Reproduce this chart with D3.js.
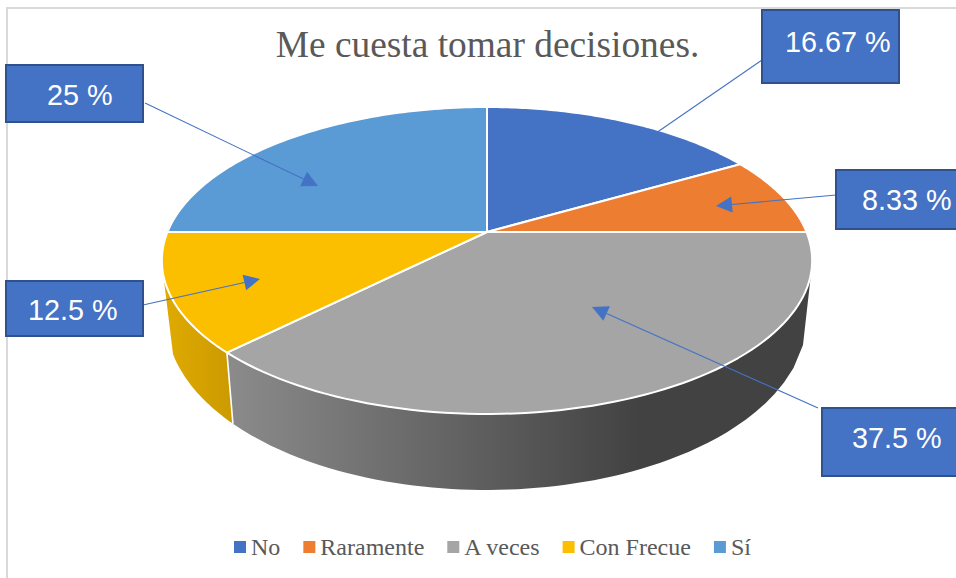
<!DOCTYPE html>
<html>
<head>
<meta charset="utf-8">
<script src="https://cdn.jsdelivr.net/npm/d3@7"></script>
<style>html,body{margin:0;padding:0;background:#fff;overflow:hidden}svg{display:block}</style>
</head>
<body>
<svg id="chart" width="956" height="578"></svg>
<script>
const title = "Me cuesta tomar decisiones.";
const categories = ["No", "Raramente", "A veces", "Con Frecue", "Sí"];
const values = [16.67, 8.33, 37.5, 12.5, 25];
const labels = ["16.67 %", "8.33 %", "37.5 %", "12.5 %", "25 %"];
const colors = ["#4472c4", "#ed7d31", "#a5a5a5", "#fcbf00", "#5b9bd5"];

// Annotation layout: box [x, y, w, h], text [x, baseline], leader [x1, y1, x2, y2]
const boxes = [[762, 10, 137, 73], [836, 170, 130, 59], [822, 408, 144, 68], [6, 281, 137, 55], [6, 65, 137, 57]];
const textAt = [[785, 52], [862, 210], [852, 448], [28, 320], [47, 105]];
const leaders = [[762, 60, 640, 144], [836, 195, 716, 206], [818, 408, 592, 307], [143, 305, 260, 279], [145, 103, 318, 186]];

const svg = d3.select("#chart");
const defs = svg.append("defs");

// Perspective projection of the pie's unit circle onto the page
const cx = 487, cy = 232, bx = 319.5, ay = 148.2, k = -0.1857;
const project = t => {
  const u = Math.sin(t), v = -Math.cos(t), w = 1 + k * v;
  return [cx + bx * u / w, cy + ay * v / w];
};
// Lower rim of the cylinder
const low = { cx: 486.5, cy: 320, rx: 320, ry: 170 };
const lowAt = x => [x, low.cy + low.ry * Math.sqrt(Math.max(0, 1 - ((x - low.cx) / low.rx) ** 2))];
const samples = (a, b, f, n = 60) => d3.range(n + 1).map(i => f(a + (b - a) * i / n));
const line = d3.line();

const arcs = d3.pie().sort(null).value(d => d).startAngle(0).endAngle(2 * Math.PI)(values);

// Frame
svg.append("path").attr("d", "M7,578V8H956").attr("fill", "none").attr("stroke", "#d9d9d9").attr("stroke-width", 2);

// Side walls
const rad = d => d * Math.PI / 180;
const grayGrad = defs.append("linearGradient").attr("id", "wallGray").attr("gradientUnits", "userSpaceOnUse")
  .attr("x1", 233).attr("x2", 640).attr("y1", 0).attr("y2", 0);
grayGrad.append("stop").attr("offset", 0).attr("stop-color", "#8a8a8a");
grayGrad.append("stop").attr("offset", 1).attr("stop-color", "#424242");
const yelGrad = defs.append("linearGradient").attr("id", "wallYellow").attr("gradientUnits", "userSpaceOnUse")
  .attr("x1", 163).attr("x2", 233).attr("y1", 0).attr("y2", 0);
yelGrad.append("stop").attr("offset", 0).attr("stop-color", "#e0aa00");
yelGrad.append("stop").attr("offset", 1).attr("stop-color", "#cb9a00");

const div = arcs[2].endAngle;
const divTop = project(div);
const divBottom = lowAt(divTop[0] + 6);
const grayWall = [
  ...samples(rad(105), div, project),
  ...samples(divBottom[0], 803, lowAt),
];
const yellowWall = [
  ...samples(div, rad(254), project, 30),
  ...samples(173, divBottom[0], lowAt, 30),
];
svg.append("path").attr("d", line(grayWall) + "Z").attr("fill", "url(#wallGray)");
svg.append("path").attr("d", line(yellowWall) + "Z").attr("fill", "url(#wallYellow)");
svg.append("path").attr("d", line([divTop, divBottom])).attr("stroke", "#fff").attr("stroke-width", 1.6).attr("fill", "none");

// Top face
svg.append("g").selectAll("path").data(arcs).join("path")
  .attr("d", d => line([[cx, cy], ...samples(d.startAngle, d.endAngle, project, 80)]) + "Z")
  .attr("fill", (d, i) => colors[i])
  .attr("stroke", "#fff").attr("stroke-width", 2).attr("stroke-linejoin", "round");

// Title
svg.append("text").attr("x", 487.5).attr("y", 57).attr("text-anchor", "middle")
  .attr("font-family", "'Liberation Serif'").attr("font-size", 37.4).attr("fill", "#595959").text(title);

// Legend
let lx = 234;
categories.forEach((c, i) => {
  svg.append("rect").attr("x", lx).attr("y", 541).attr("width", 12).attr("height", 12).attr("fill", colors[i]);
  const t = svg.append("text").attr("x", lx + 17).attr("y", 555)
    .attr("font-family", "'Liberation Serif'").attr("font-size", 24).attr("fill", "#595959").text(c);
  lx += 17 + t.node().getComputedTextLength() + 23;
});

// Callouts
const callouts = svg.append("g");
const head = 16, half = 8;
leaders.forEach(([x1, y1, x2, y2]) => {
  const a = Math.atan2(y2 - y1, x2 - x1), c = Math.cos(a), s = Math.sin(a);
  const bxx = x2 - head * c, byy = y2 - head * s;
  callouts.append("path").attr("d", line([[x1, y1], [bxx, byy]])).attr("stroke", "#4472c4").attr("stroke-width", 1.1).attr("fill", "none");
  callouts.append("path").attr("d", line([[x2, y2], [bxx - half * s, byy + half * c], [bxx + half * s, byy - half * c]]) + "Z").attr("fill", "#4472c4");
});
boxes.forEach(([x, y, w, h], i) => {
  callouts.append("rect").attr("x", x).attr("y", y).attr("width", w).attr("height", h)
    .attr("fill", "#4472c4").attr("stroke", "#2f528f").attr("stroke-width", 2);
  callouts.append("text").attr("x", textAt[i][0]).attr("y", textAt[i][1])
    .attr("font-family", "'Liberation Sans'").attr("font-size", 28.8).attr("fill", "#fff").text(labels[i]);
});
</script>
</body>
</html>
